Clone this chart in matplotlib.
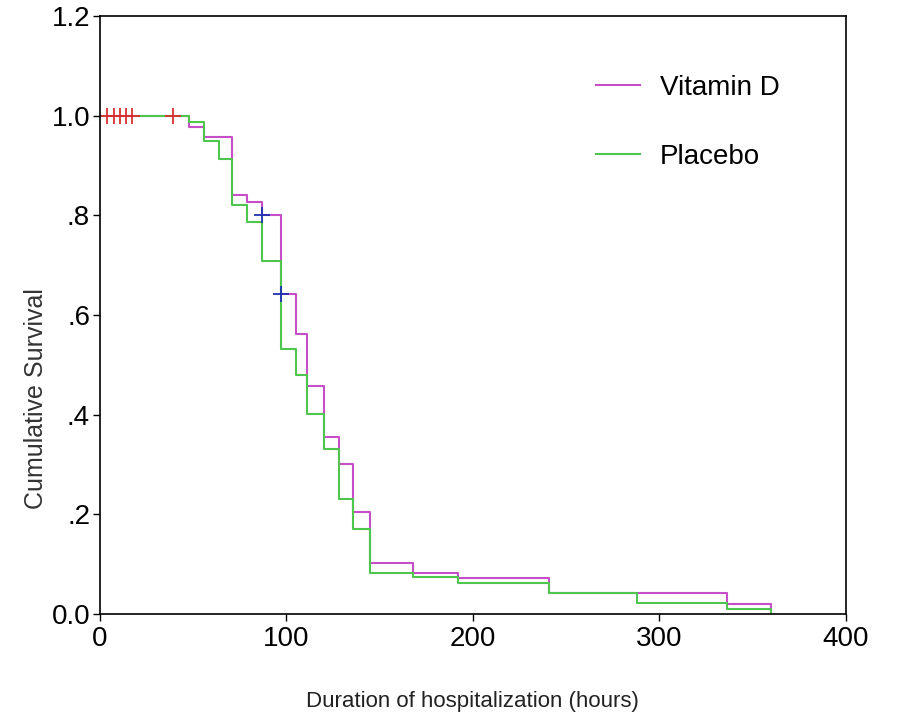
import matplotlib
matplotlib.use('Agg')
import matplotlib.pyplot as plt
import numpy as np

# Kaplan-Meier steps (hours, cumulative survival)
vit_times = [0, 48, 56, 71, 79, 87, 97, 105, 111, 120, 128, 136, 145, 168, 192, 241, 336, 360]
vit_surv = [1.0, 0.978, 0.958, 0.840, 0.827, 0.800, 0.642, 0.561, 0.457, 0.356, 0.300, 0.205, 0.103, 0.082, 0.072, 0.042, 0.020, 0.0]

pla_times = [0, 48, 56, 64, 71, 79, 87, 97, 105, 111, 120, 128, 136, 145, 168, 192, 241, 288, 336, 360]
pla_surv = [1.0, 0.988, 0.950, 0.913, 0.820, 0.787, 0.708, 0.531, 0.479, 0.402, 0.330, 0.231, 0.171, 0.082, 0.074, 0.062, 0.042, 0.022, 0.010, 0.0]

# censored observations
cens_red_x = [4, 7.5, 11, 14, 17.5, 39.5]
cens_red_y = [1.0, 1.0, 1.0, 1.0, 1.0, 1.0]
cens_blue_x = [87, 97]
cens_blue_y = [0.800, 0.642]

plt.rcParams['font.family'] = ['Liberation Sans', 'DejaVu Sans']

fig = plt.figure(figsize=(8.99, 7.24), dpi=100)
ax = fig.add_axes([0.111, 0.152, 0.830, 0.826])

ax.plot(vit_times, vit_surv, drawstyle='steps-post', color='#c64ec6', linewidth=1.5, label='Vitamin D')
ax.plot(pla_times, pla_surv, drawstyle='steps-post', color='#4ec64e', linewidth=1.5, label='Placebo')
ax.plot(cens_red_x, cens_red_y, linestyle='none', marker='+', markersize=12, markeredgewidth=1.3, color='#d83030')
ax.plot(cens_blue_x, cens_blue_y, linestyle='none', marker='+', markersize=12, markeredgewidth=1.3, color='#2030b0')

ax.set_xlim(0, 400)
ax.set_ylim(0, 1.2)
ax.set_xticks([0, 100, 200, 300, 400])
ax.set_yticks([0, 0.2, 0.4, 0.6, 0.8, 1.0, 1.2])
ax.set_yticklabels(['0.0', '.2', '.4', '.6', '.8', '1.0', '1.2'])
ax.tick_params(axis='both', labelsize=20, length=5, width=1, direction='out')
ax.tick_params(axis='x', pad=4)
ax.tick_params(axis='y', pad=2)
for s in ax.spines.values():
    s.set_linewidth(1.2)

ax.set_ylabel('Cumulative Survival', fontsize=18, color='#333333')
ax.yaxis.set_label_coords(-0.07, 0.36)
ax.set_xlabel('Duration of hospitalization (hours)', fontsize=16, color='#222222', labelpad=28)

leg = ax.legend(loc='upper left', bbox_to_anchor=(0.665, 0.902), frameon=False, fontsize=20,
                handlelength=1.6, labelspacing=1.55, handletextpad=0.7,
                borderpad=0, borderaxespad=0)

fig.savefig('out.png', dpi=100)
